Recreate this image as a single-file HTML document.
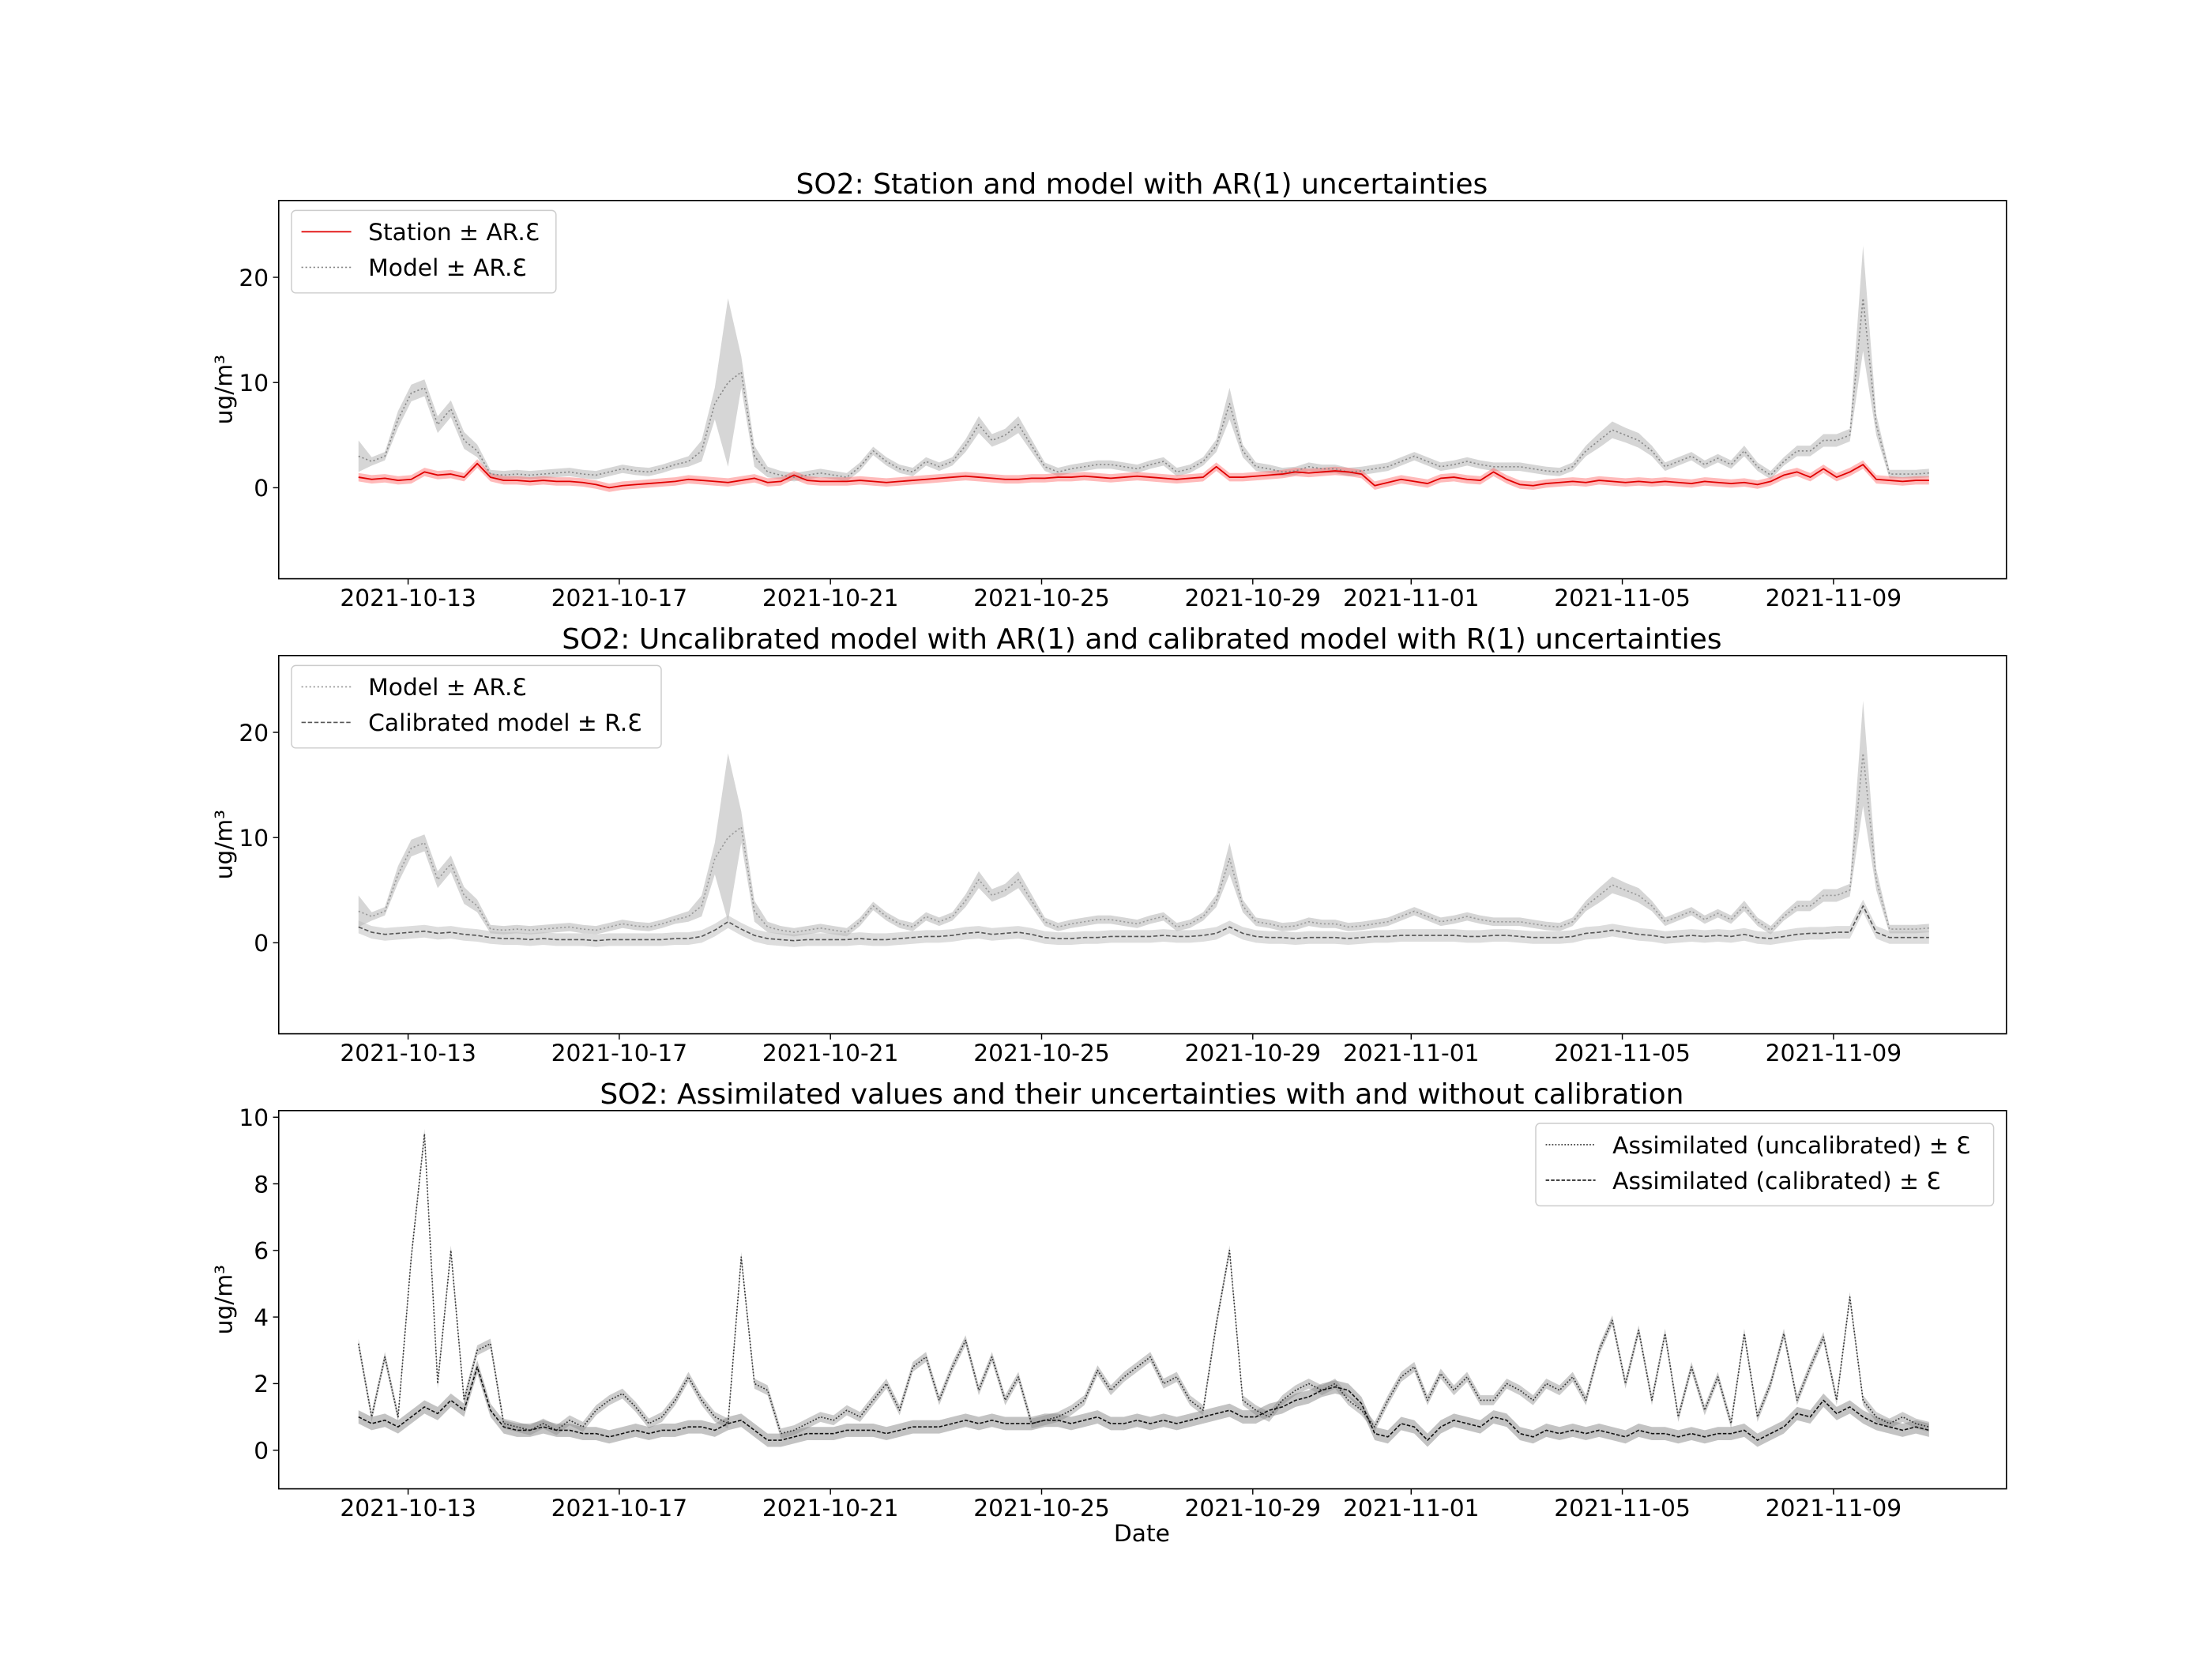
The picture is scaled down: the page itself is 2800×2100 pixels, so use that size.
<!DOCTYPE html>
<html><head><meta charset="utf-8"><style>
html,body{margin:0;padding:0;background:#fff;}
svg{display:block;font-family:"DejaVu Sans","Liberation Sans",sans-serif;}
</style></head><body>
<svg id="chart" width="2800" height="2100" viewBox="0 0 1555.56 1166.67" xmlns="http://www.w3.org/2000/svg"></svg>
<script>
// Time grid: day offsets from 2021-10-13, 6-hourly samples
const startDay = -0.94;
const stepDay = 0.25;
const dateTicks = ["2021-10-13","2021-10-17","2021-10-21","2021-10-25","2021-10-29","2021-11-01","2021-11-05","2021-11-09"];
const dateTickDays = [0,4,8,12,16,19,23,27];
const model = [3,2.5,3,6.5,9,9.5,6,7.5,4.5,3.5, 1.3,1.2,1.3,1.2,1.3,1.4,1.5,1.3,1.2,1.5, 1.8,1.6,1.5,1.8,2.2,2.5,3.5,8,10,11, 3,1.5,1.2,1,1.2,1.4,1.2,1,2,3.5, 2.5,1.8,1.5,2.5,2,2.5,4,6,4.5,5, 6,4,2,1.5,1.8,2,2.2,2.2,2,1.8, 2.2,2.5,1.5,1.8,2.5,4,8,3.5,2,1.8, 1.5,1.6,2,1.8,1.8,1.5,1.6,1.8,2,2.5, 3,2.5,2,2.2,2.5,2.2,2,2,2,1.8, 1.6,1.5,2,3.5,4.5,5.5,5,4.5,3.5,2, 2.5,3,2.2,2.8,2.2,3.5,2,1.2,2.5,3.5, 3.5,4.5,4.5,5,18,6,1.3,1.3,1.3,1.4];
const modelErr = [1.5,0.4,0.4,0.8,0.8,0.8,0.8,0.8,0.8,0.6, 0.4,0.4,0.4,0.4,0.4,0.4,0.4,0.4,0.4,0.4, 0.4,0.4,0.4,0.4,0.4,0.5,1,1.5,8,1.5, 1,0.5,0.4,0.4,0.4,0.4,0.4,0.4,0.4,0.4, 0.4,0.4,0.4,0.4,0.4,0.4,0.6,0.8,0.6,0.6, 0.8,0.6,0.4,0.4,0.4,0.4,0.4,0.4,0.4,0.4, 0.4,0.4,0.4,0.4,0.4,0.6,1.5,0.6,0.4,0.4, 0.4,0.4,0.4,0.4,0.4,0.4,0.4,0.4,0.4,0.4, 0.4,0.4,0.4,0.4,0.4,0.4,0.4,0.4,0.4,0.4, 0.4,0.4,0.4,0.5,0.7,0.8,0.7,0.7,0.5,0.4, 0.4,0.4,0.4,0.4,0.4,0.5,0.4,0.4,0.4,0.5, 0.5,0.6,0.6,0.6,5,1,0.4,0.4,0.4,0.4];
const station = [1,0.8,0.9,0.7,0.8,1.5,1.2,1.3,1,2.3, 1,0.7,0.7,0.6,0.7,0.6,0.6,0.5,0.3,0, 0.2,0.3,0.4,0.5,0.6,0.8,0.7,0.6,0.5,0.7, 0.9,0.5,0.6,1.2,0.7,0.6,0.6,0.6,0.7,0.6, 0.5,0.6,0.7,0.8,0.9,1,1.1,1,0.9,0.8, 0.8,0.9,0.9,1,1,1.1,1,0.9,1,1.1, 1,0.9,0.8,0.9,1,2,1,1,1.1,1.2, 1.3,1.5,1.4,1.5,1.6,1.5,1.3,0.2,0.5,0.8, 0.6,0.4,0.9,1,0.8,0.7,1.5,0.8,0.3,0.2, 0.4,0.5,0.6,0.5,0.7,0.6,0.5,0.6,0.5,0.6, 0.5,0.4,0.6,0.5,0.4,0.5,0.3,0.6,1.2,1.5, 1,1.8,1,1.5,2.2,0.8,0.7,0.6,0.7,0.7];
const stationErr = [0.4];
const calibrated = [1.5,1,0.8,0.9,1,1.1,0.9,1,0.8,0.7, 0.5,0.4,0.4,0.3,0.4,0.3,0.3,0.3,0.2,0.3, 0.3,0.3,0.3,0.3,0.4,0.4,0.6,1.2,2,1.3, 0.7,0.4,0.3,0.2,0.3,0.3,0.3,0.3,0.4,0.3, 0.3,0.4,0.5,0.6,0.6,0.7,0.9,1,0.8,0.9, 1,0.8,0.5,0.4,0.4,0.5,0.5,0.6,0.6,0.6, 0.6,0.7,0.6,0.6,0.7,0.9,1.5,0.9,0.6,0.5, 0.5,0.4,0.5,0.5,0.5,0.4,0.5,0.6,0.6,0.7, 0.7,0.7,0.7,0.7,0.6,0.6,0.7,0.7,0.6,0.5, 0.5,0.5,0.6,0.9,1,1.2,1,0.8,0.7,0.5, 0.6,0.7,0.6,0.7,0.6,0.8,0.5,0.4,0.6,0.8, 0.9,0.9,1,1,3.5,1,0.5,0.5,0.5,0.5];
const calibratedErr = [0.6];
const assimU = [3.2,1,2.8,1,5.8,9.5,2,6,1.5,3, 3.2,0.8,0.7,0.6,0.8,0.6,0.9,0.7,1.2,1.5, 1.7,1.3,0.8,1,1.5,2.2,1.5,1,0.8,5.8, 2,1.8,0.5,0.6,0.8,1,0.9,1.2,1,1.5, 2,1.2,2.5,2.8,1.5,2.5,3.3,1.8,2.8,1.5, 2.2,0.8,0.9,1,1.2,1.5,2.4,1.8,2.2,2.5, 2.8,2,2.2,1.5,1.2,3.8,6,1.5,1.2,1, 1.5,1.8,2,1.8,2,1.5,1.2,0.7,1.5,2.2, 2.5,1.5,2.3,1.8,2.2,1.5,1.5,2,1.8,1.5, 2,1.8,2.2,1.5,3,3.9,2,3.6,1.5,3.5, 1,2.5,1.2,2.2,0.8,3.5,1,2,3.5,1.5, 2.5,3.4,1.5,4.6,1.5,1,0.8,1,0.8,0.7];
const assimUErr = [0.15];
const assimC = [1,0.8,0.9,0.7,1,1.3,1.1,1.5,1.2,2.5, 1.2,0.7,0.6,0.6,0.7,0.6,0.6,0.5,0.5,0.4, 0.5,0.6,0.5,0.6,0.6,0.7,0.7,0.6,0.8,0.9, 0.6,0.3,0.3,0.4,0.5,0.5,0.5,0.6,0.6,0.6, 0.5,0.6,0.7,0.7,0.7,0.8,0.9,0.8,0.9,0.8, 0.8,0.8,0.9,0.9,0.8,0.9,1,0.8,0.8,0.9, 0.8,0.9,0.8,0.9,1,1.1,1.2,1,1,1.2, 1.3,1.5,1.6,1.8,1.9,1.8,1.4,0.5,0.4,0.8, 0.7,0.3,0.7,0.9,0.8,0.7,1,0.9,0.5,0.4, 0.6,0.5,0.6,0.5,0.6,0.5,0.4,0.6,0.5,0.5, 0.4,0.5,0.4,0.5,0.5,0.6,0.3,0.5,0.7,1.1, 1,1.5,1.1,1.3,1,0.8,0.7,0.6,0.7,0.6];
const assimCErr = [0.2];
const yTicksTop = [0,10,20];
const yTicksBottom = [0,2,4,6,8,10];

const svg = document.getElementById('chart');
const NS = 'http://www.w3.org/2000/svg';
function mk(tag, attrs, parent){const e=document.createElementNS(NS,tag);for(const k in attrs)e.setAttribute(k,attrs[k]);(parent||svg).appendChild(e);return e;}
const X0=196,X1=1411;
function xScale(d){return 287 + d*37.125;}
function dayAt(i){return startDay + i*stepDay;}
function errAt(arr,i){return arr.length===1?arr[0]:arr[i];}

function makePanel(top,ymin,ymax,ticks,title,name){
  const H=266;
  const g=mk('g',{});
  
  
  const y=v=>top+H-(v-ymin)/(ymax-ymin)*H;
  const t=mk('text',{x:803,y:top-5,'text-anchor':'middle','font-size':20},g);
  t.textContent=title;
  
  
  ticks.forEach(v=>{
    mk('line',{x1:X0-4,x2:X0,y1:y(v),y2:y(v),stroke:'#000','stroke-width':0.8},g);
    const tt=mk('text',{x:X0-7,y:y(v)+6,'text-anchor':'end','font-size':16.5},g);
    tt.textContent=v;
    
    
  });
  dateTicks.forEach((lab,k)=>{
    const xx=xScale(dateTickDays[k]);
    mk('line',{x1:xx,x2:xx,y1:top+H,y2:top+H+4,stroke:'#000','stroke-width':0.8},g);
    const tt=mk('text',{x:xx,y:top+H+19,'text-anchor':'middle','font-size':16.5},g);
    tt.textContent=lab;
    
    
  });
  const yl=mk('text',{x:0,y:0,'text-anchor':'middle','font-size':16.5,transform:`translate(163,${top+H/2}) rotate(-90)`},g);
  yl.textContent='ug/m³';
  
  
  return {g,y,top,H};
}
function band(p,vals,errs,fill,op,name){
  let up=[],lo=[];
  vals.forEach((v,i)=>{const x=xScale(dayAt(i));const e=errAt(errs,i);up.push(x+','+p.y(v+e));lo.unshift(x+','+p.y(v-e));});
  const e=mk('polygon',{points:up.concat(lo).join(' '),fill:fill,'fill-opacity':op,stroke:'none'},p.g);
  
  
}
function line(p,vals,stroke,w,dash,name){
  const pts=vals.map((v,i)=>xScale(dayAt(i))+','+p.y(v)).join(' ');
  const e=mk('polyline',{points:pts,fill:'none',stroke:stroke,'stroke-width':w,'stroke-dasharray':dash,'stroke-linejoin':'round'},p.g);
  
  
}
function frame(p){mk('rect',{x:X0,y:p.top,width:X1-X0,height:p.H,fill:'none',stroke:'#000','stroke-width':0.9},p.g);}
function legend(p,x,y,w,entries){
  const h=entries.length*25+8;
  const r=mk('rect',{x:x,y:y,width:w,height:h,rx:3,fill:'#fff','fill-opacity':0.8,stroke:'#ccc','stroke-width':0.8},p.g);
  
  
  entries.forEach((en,k)=>{
    const yy=y+15+k*25;
    const l=mk('line',{x1:x+7,x2:x+42,y1:yy,y2:yy,stroke:en.c,'stroke-width':en.w,'stroke-dasharray':en.d},p.g);
    
    
    const t=mk('text',{x:x+54,y:yy+6,'font-size':16.5},p.g);
    t.textContent=en.t;
    
    
  });
}

// Panel 1
const p1=makePanel(141,-8.65,27.3,yTicksTop,'SO2: Station and model with AR(1) uncertainties','panel-station-model');
band(p1,model,modelErr,'#bbbbbb',0.6,'model-band');
band(p1,station,stationErr,'#ff6666',0.45,'station-band');
line(p1,model,'#888',0.9,'1.2 1.6','model-line');
line(p1,station,'#e00000',1,'','station-line');
frame(p1);
legend(p1,205,148,186,[{t:'Station ± AR.Ɛ',c:'#e00000',w:1,d:''},{t:'Model ± AR.Ɛ',c:'#888',w:0.9,d:'1.2 1.6'}]);

// Panel 2
const p2=makePanel(461,-8.65,27.3,yTicksTop,'SO2: Uncalibrated model with AR(1) and calibrated model with R(1) uncertainties','panel-calibration');
band(p2,model,modelErr,'#bbbbbb',0.6,'model-band');
band(p2,calibrated,calibratedErr,'#bbbbbb',0.5,'calibrated-band');
line(p2,model,'#999',0.9,'1.2 1.6','model-line');
line(p2,calibrated,'#555',0.9,'3 1.5','calibrated-line');
frame(p2);
legend(p2,205,468,260,[{t:'Model ± AR.Ɛ',c:'#999',w:0.9,d:'1.2 1.6'},{t:'Calibrated model ± R.Ɛ',c:'#555',w:0.9,d:'3 1.5'}]);

// Panel 3
const p3=makePanel(781,-1.16,10.2,yTicksBottom,'SO2: Assimilated values and their uncertainties with and without calibration','panel-assimilated');
band(p3,assimU,assimUErr,'#999',0.5,'assim-uncal-band');
band(p3,assimC,assimCErr,'#888',0.5,'assim-cal-band');
line(p3,assimU,'#333',0.9,'1 1.2','assim-uncal-line');
line(p3,assimC,'#111',0.9,'2.5 1.2','assim-cal-line');
frame(p3);
legend(p3,1080,790,322,[{t:'Assimilated (uncalibrated) ± Ɛ',c:'#333',w:0.9,d:'1 1.2'},{t:'Assimilated (calibrated) ± Ɛ',c:'#111',w:0.9,d:'2.5 1.2'}]);
const xl=mk('text',{x:803,y:1084,'text-anchor':'middle','font-size':16.5});
xl.textContent='Date';


</script>
</body></html>
